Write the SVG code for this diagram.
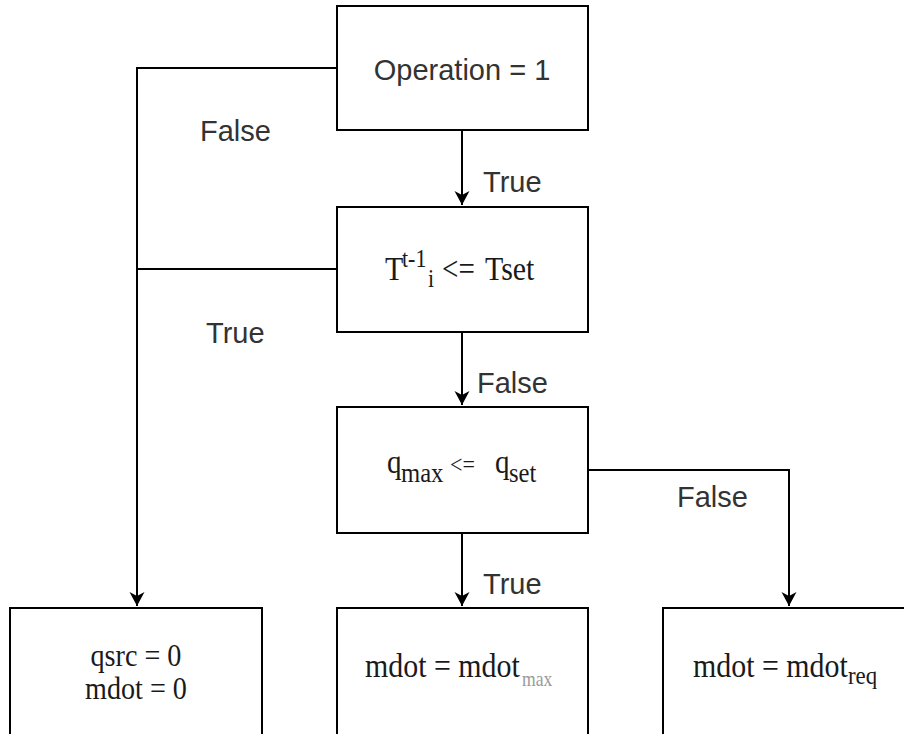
<svg xmlns="http://www.w3.org/2000/svg" width="904" height="734" viewBox="0 0 904 734">
  <style>
    .box { fill: #ffffff; stroke: #000000; stroke-width: 2; }
    .wire { fill: none; stroke: #000000; stroke-width: 2; }
    .lbl { font-family: "Liberation Sans", Arial, sans-serif; font-size: 29px; fill: #333333; }
    .eq { font-family: "Liberation Serif", "Times New Roman", serif; fill: #1a1a1a; }
  </style>
  <defs>
    <marker id="arrow" markerUnits="userSpaceOnUse" markerWidth="16" markerHeight="16" refX="14" refY="7.5" orient="auto">
      <path d="M0,0 L14,7.5 L0,15 L4,7.5 z" fill="#000000"/>
    </marker>
  </defs>
  <rect width="904" height="734" fill="#ffffff"/>

  <!-- connectors -->
  <g id="connectors">
    <path class="wire" d="M337,68 H137 V606" marker-end="url(#arrow)"/>
    <path class="wire" d="M337,269 H137"/>
    <path class="wire" d="M462,130 V205" marker-end="url(#arrow)"/>
    <path class="wire" d="M462,332 V405" marker-end="url(#arrow)"/>
    <path class="wire" d="M462,533 V606" marker-end="url(#arrow)"/>
    <path class="wire" d="M588,470 H789 V606" marker-end="url(#arrow)"/>
    <text class="lbl" x="200" y="141">False</text>
    <text class="lbl" x="483" y="192">True</text>
    <text class="lbl" x="206" y="343">True</text>
    <text class="lbl" x="477" y="393">False</text>
    <text class="lbl" x="677" y="507">False</text>
    <text class="lbl" x="483" y="594">True</text>
  </g>

  <!-- decision: operation -->
  <g id="node-operation">
    <rect class="box" x="337" y="6" width="251" height="124"/>
    <text class="lbl" x="462" y="80" text-anchor="middle">Operation = 1</text>
  </g>

  <!-- decision: temperature -->
  <g id="node-temperature">
    <rect class="box" x="337" y="207" width="251" height="125"/>
    <g transform="scale(0.88,1)" class="eq">
      <text x="437.5" y="280" font-size="34">T</text>
      <text x="456.8" y="267" font-size="25">t-1</text>
      <text x="486.4" y="287" font-size="25">i</text>
      <text x="502.3" y="280" font-size="33">&lt;=</text>
      <text x="551.1" y="280" font-size="34">Tset</text>
    </g>
  </g>

  <!-- decision: heat rate -->
  <g id="node-heat">
    <rect class="box" x="337" y="407" width="251" height="126"/>
    <g transform="scale(0.88,1)" class="eq">
      <text x="439.8" y="473" font-size="33">q</text>
      <text x="455.7" y="482" font-size="28">max</text>
      <text x="511.4" y="473" font-size="25">&lt;=</text>
      <text x="562.5" y="473" font-size="33">q</text>
      <text x="578.4" y="482" font-size="28">set</text>
    </g>
  </g>

  <!-- result: off -->
  <g id="node-off">
    <rect class="box" x="10" y="608" width="252" height="132"/>
    <g transform="scale(0.88,1)" class="eq">
      <text x="154.5" y="666" font-size="32" text-anchor="middle">qsrc = 0</text>
      <text x="154.5" y="699" font-size="32" text-anchor="middle">mdot = 0</text>
    </g>
  </g>

  <!-- result: max flow -->
  <g id="node-max">
    <rect class="box" x="337" y="608" width="251" height="132"/>
    <g transform="scale(0.88,1)" class="eq">
      <text x="414.8" y="677" font-size="34">mdot = mdot</text>
      <text x="593.2" y="686" font-size="20" fill="#999999">max</text>
    </g>
  </g>

  <!-- result: required flow -->
  <g id="node-req">
    <rect class="box" x="663" y="608" width="252" height="132"/>
    <g transform="scale(0.88,1)" class="eq">
      <text x="787.5" y="677" font-size="34">mdot = mdot</text>
      <text x="963.6" y="684" font-size="26">req</text>
    </g>
  </g>
</svg>
